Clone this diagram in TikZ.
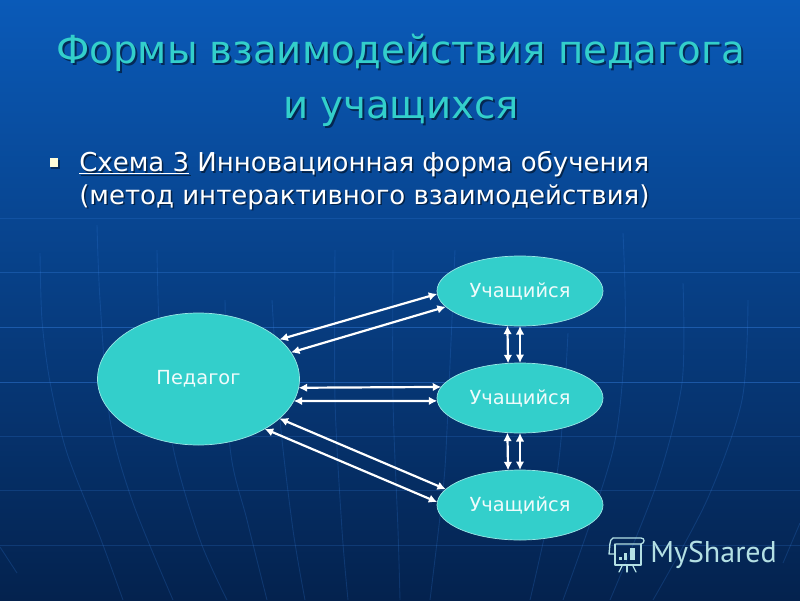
\documentclass[tikz,border=0pt]{standalone}
\usepackage{fontspec}
\usetikzlibrary{shapes.geometric,arrows.meta}
\setmainfont{DejaVu Sans}
\newfontfamily\markfont{PT Sans}
\definecolor{teal1}{HTML}{33CFCB}
\definecolor{gridc}{HTML}{3A86E8}
\definecolor{bgtop}{HTML}{0A5AB8}
\definecolor{bgmid}{HTML}{064A98}
\definecolor{bgbot}{HTML}{04224E}
\definecolor{markc}{HTML}{B4E0E4}
\tikzset{
  every node/.style={outer sep=0pt},
  person/.style={ellipse,fill=teal1,draw=teal1!50!white,line width=0.7pt,inner sep=0pt,text=white!92!teal1,font=\fontsize{19.4}{23}\selectfont},
  link/.style={draw=white,line width=2.2pt,{Latex[length=8.5pt,width=8.5pt]}-{Latex[length=8.5pt,width=8.5pt]}},
  gridline/.style={draw=gridc,line width=0.9pt,opacity=0.2},
  gridbright/.style={draw=gridc,line width=1pt,opacity=0.42},
  titletext/.style={text=teal1,font=\fontsize{38.7}{55}\selectfont,align=center},
  bodytext/.style={text=white,font=\fontsize{26}{32.5}\selectfont,align=left,anchor=north west},
  shadow/.style={text=black,opacity=0.5}
}
\begin{document}
\begin{tikzpicture}[x=1pt,y=-1pt]
\useasboundingbox (0,0) rectangle (800,600);
\fill[top color=bgtop, middle color=bgmid, bottom color=bgbot] (0,0) rectangle (800,600);
% grid
\foreach \yy in {218,436,490,545} \draw[gridline] (0,\yy) -- (800,\yy);
\draw[gridc,line width=1pt,opacity=0.3] (0,272) -- (800,272);
\foreach \yy in {327,382} \draw[gridbright] (0,\yy) -- (800,\yy);
\draw[gridline] plot[smooth] coordinates {(40,253) (42,320) (50,382) (67,453) (100,537) (123,600)};
\draw[gridline] plot[smooth] coordinates {(97,225) (100,300) (110,420) (133,503) (173,600)};
\draw[gridline] plot[smooth] coordinates {(157,250) (160,340) (173,447) (200,540) (227,600)};
\draw[gridline] plot[smooth] coordinates {(225,300) (230,447) (247,520) (267,600)};
\draw[gridline] plot[smooth] coordinates {(272,300) (280,420) (293,530) (305,600)};
\draw[gridline] plot[smooth] coordinates {(335,250) (335,400) (342,530) (348,600)};
\draw[gridline] plot[smooth] coordinates {(393,250) (393,400) (398,530) (400,600)};
\draw[gridline] plot[smooth] coordinates {(455,250) (447,430) (443,490) (430,600)};
\draw[gridline] plot[smooth] coordinates {(568,333) (558,467) (530,600)};
\draw[gridline] plot[smooth] coordinates {(623,233) (625,333) (613,450) (563,600)};
\draw[gridline] plot[smooth] coordinates {(683,283) (682,383) (657,483) (610,600)};
\draw[gridline] plot[smooth] coordinates {(748,300) (742,400) (707,500) (653,600)};
\draw[gridline] (800,523) -- (783,563);
\draw[gridline] (0,547) -- (17,573);
% title
\node[titletext,shadow] at (403,82) {Формы взаимодействия педагога\\и учащихся};
\node[titletext] (title) at (401,80) {Формы взаимодействия педагога\\и учащихся};
% bullet
\fill[black,opacity=.4] (51,160) rectangle (60,169);
\fill[yellow!15!white] (49.5,158) rectangle (58,166.5);
% body
\node[bodytext,shadow] at (77.5,149.5) {\underline{Схема 3} Инновационная форма обучения\\(метод интерактивного взаимодействия)};
\node[bodytext] (body) at (76,148) {\underline{Схема 3} Инновационная форма обучения\\(метод интерактивного взаимодействия)};
% nodes
\node[person,minimum width=202pt,minimum height=132pt] (ped) at (198.5,379) {Педагог};
\node[person,minimum width=166pt,minimum height=70pt] (st1) at (520,291) {Учащийся};
\node[person,minimum width=166pt,minimum height=70pt] (st2) at (520,398) {Учащийся};
\node[person,minimum width=166pt,minimum height=70pt] (st3) at (520,505) {Учащийся};
% connectors
\draw[link] (ped.26.4) -- (st1.182);
\draw[link] (ped.16.2) -- (st1.192.4);
\draw[link] (ped.-5.14) -- (st2.172.83);
\draw[link] (ped.-13) -- (st2.182.08);
\draw[link] (ped.-26.4) -- (st3.168);
\draw[link] (ped.-37.9) -- (st3.178);
\draw[link] (st1.250.9) -- (st2.109.1);
\draw[link] (st1.270) -- (st2.90);
\draw[link] (st2.250.9) -- (st3.109.1);
\draw[link] (st2.270) -- (st3.90);
% watermark
\begin{scope}[draw=markc,line width=1.3pt,line cap=round,line join=round]
\draw (613,538) -- (641,538) .. controls (645,538) and (645,543) .. (641,544) -- (616,544);
\draw (613,538) .. controls (609,539) and (610,548) .. (609,554) -- (614,554);
\draw (615,544) -- (615,565) -- (641,565) -- (641,544);
\draw (622,566) -- (619,572);
\draw (627,566) -- (627,572);
\draw (633,566) -- (636,572);
\fill[markc] (619,557) rectangle (622,560);
\fill[markc] (624,553) rectangle (627,560);
\fill[markc] (630,548) rectangle (635,560);
\end{scope}
\node[anchor=west,text=markc,font=\markfont\fontsize{30}{34}\selectfont] (mark) at (647,555) {MyShared};
\end{tikzpicture}
\end{document}
